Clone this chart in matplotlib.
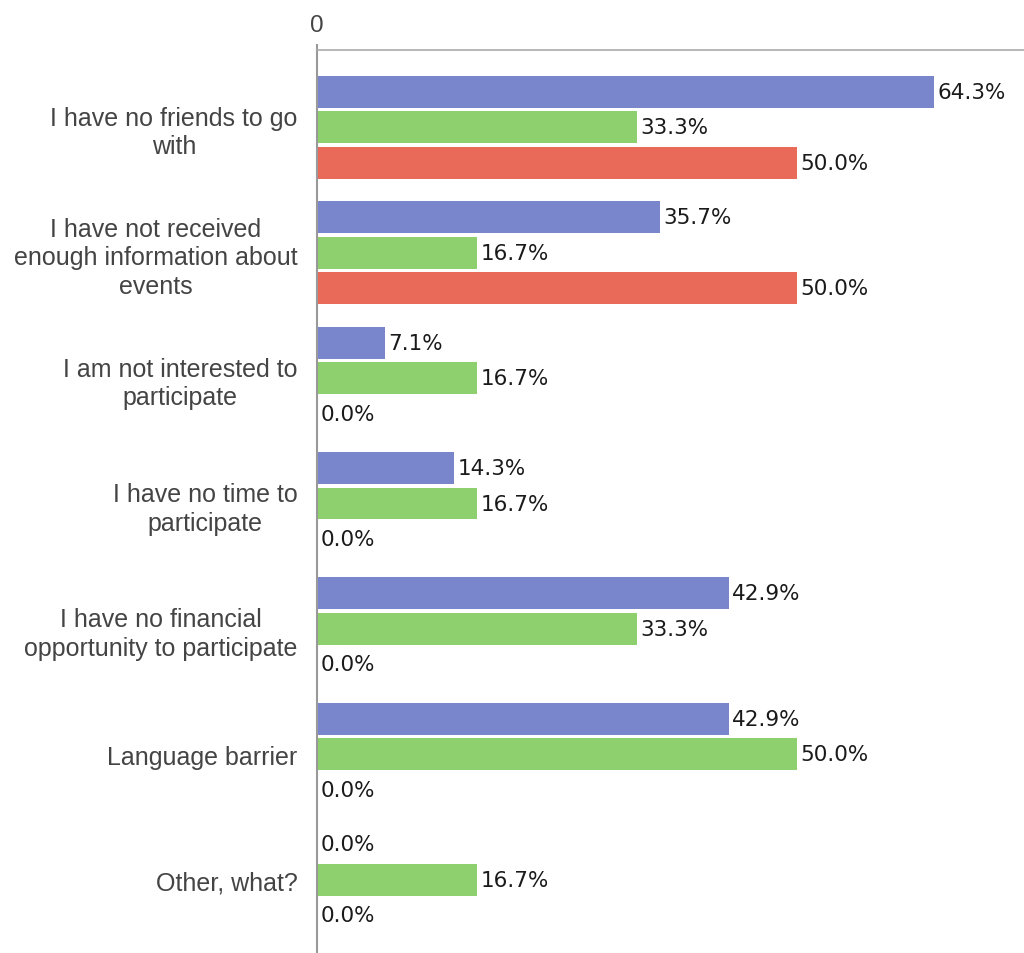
import numpy as np
import matplotlib.pyplot as plt

categories = [
    "I have no friends to go\nwith",
    "I have not received\nenough information about\nevents",
    "I am not interested to\nparticipate",
    "I have no time to\nparticipate",
    "I have no financial\nopportunity to participate",
    "Language barrier",
    "Other, what?",
]
blue_vals = [64.3, 35.7, 7.1, 14.3, 42.9, 42.9, 0.0]
green_vals = [33.3, 16.7, 16.7, 16.7, 33.3, 50.0, 16.7]
red_vals = [50.0, 50.0, 0.0, 0.0, 0.0, 0.0, 0.0]

colors = ["#7986CB", "#8ED06D", "#E96A58"]

fig = plt.figure(figsize=(10.24, 9.54), dpi=100)
ax = fig.add_axes([317 / 1024, 0.0, 1 - 317 / 1024, 1 - 51 / 954])

y = np.arange(len(categories))
h = 0.255
step = 0.283
for i, (vals, c) in enumerate(zip([blue_vals, green_vals, red_vals], colors)):
    pos = y + (i - 1) * step
    ax.barh(pos, vals, height=h, color=c, edgecolor="none")
    for p, v in zip(pos, vals):
        ax.text(v + 0.35, p, f"{v:.1f}%", va="center", ha="left",
                fontsize=15.5, color="#1a1a1a", family="DejaVu Sans")

ax.set_xlim(0, (1024 - 317) / 9.6)
ax.set_ylim(len(categories) - 0.416, -0.616)
ax.set_yticks(y)
ax.set_yticklabels(categories, fontsize=18, color="#444444",
                   family="Liberation Sans", multialignment="center",
                   linespacing=1.24)
ax.tick_params(axis="y", length=0, pad=14)

ax.xaxis.tick_top()
ax.set_xticks([0])
ax.set_xticklabels(["0"], fontsize=17.5, color="#444444", family="Liberation Sans")
ax.tick_params(axis="x", length=4, width=1.5, color="#999999", pad=6)

for side in ["right", "bottom"]:
    ax.spines[side].set_visible(False)
ax.spines["top"].set_color("#aaaaaa")
ax.spines["top"].set_linewidth(1.2)
ax.spines["left"].set_color("#999999")
ax.spines["left"].set_linewidth(1.5)

fig.savefig("out.png", dpi=100)
